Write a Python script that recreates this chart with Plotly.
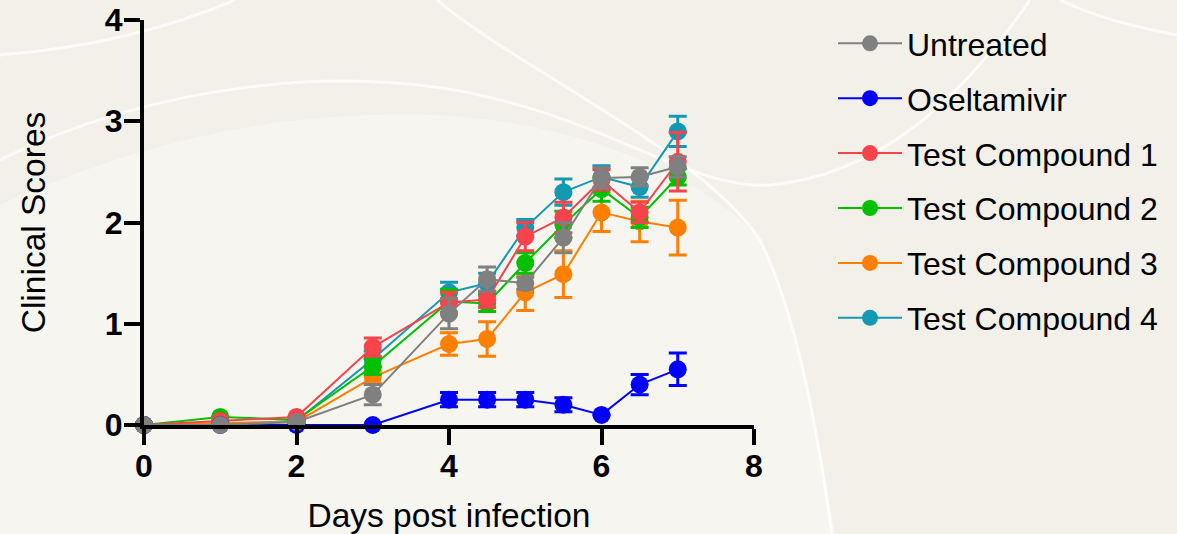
import plotly.graph_objects as go

# ---------------- data ----------------
days = [0, 1, 2, 3, 4, 4.5, 5, 5.5, 6, 6.5, 7]

series_names = ["Untreated", "Oseltamivir", "Test Compound 1",
                "Test Compound 2", "Test Compound 3", "Test Compound 4"]

untreated = [0, 0, 0.03, 0.30, 1.10, 1.44, 1.40, 1.85, 2.44, 2.45, 2.55]
untreated_err = [0, 0, 0, 0.10, 0.15, 0.12, 0.06, 0.15, 0.10, 0.09, 0.10]

oseltamivir = [0, 0, 0, 0, 0.25, 0.25, 0.25, 0.20, 0.10, 0.40, 0.55]
oseltamivir_err = [0, 0, 0, 0, 0.07, 0.07, 0.07, 0.07, 0, 0.10, 0.16]

compound1 = [0, 0.04, 0.08, 0.77, 1.21, 1.24, 1.86, 2.05, 2.42, 2.10, 2.60]
compound1_err = [0, 0, 0, 0.09, 0.10, 0.08, 0.14, 0.15, 0.10, 0.10, 0.29]

compound2 = [0, 0.08, 0.05, 0.58, 1.22, 1.20, 1.60, 1.98, 2.33, 2.05, 2.45]
compound2_err = [0, 0, 0, 0.08, 0.12, 0.08, 0.10, 0.13, 0.12, 0.10, 0.08]

compound3 = [0, 0.02, 0.03, 0.47, 0.80, 0.85, 1.31, 1.49, 2.10, 2.01, 1.95]
compound3_err = [0, 0, 0, 0.06, 0.11, 0.17, 0.18, 0.23, 0.19, 0.20, 0.27]

compound4 = [0, 0.01, 0.04, 0.65, 1.31, 1.40, 1.95, 2.30, 2.45, 2.35, 2.90]
compound4_err = [0, 0, 0, 0.08, 0.10, 0.10, 0.08, 0.13, 0.11, 0.10, 0.15]

values = [untreated, oseltamivir, compound1, compound2, compound3, compound4]
errors = [untreated_err, oseltamivir_err, compound1_err, compound2_err,
          compound3_err, compound4_err]
colors = ["#808080", "#0000ff", "#f8434a", "#00c000", "#ff8000", "#1399b4"]

x_ticks = [0, 2, 4, 6, 8]
y_ticks = [0, 1, 2, 3, 4]

# ---------------- figure ----------------
W, H = 1177, 534
ML, MR, MT, MB = 144, 423, 20, 109
PW, PH = W - ML - MR, H - MT - MB

fig = go.Figure()

# draw last series first so that "Untreated" sits on top
for i in reversed(range(len(series_names))):
    fig.add_trace(go.Scatter(
        x=days, y=values[i], name=series_names[i],
        mode="lines+markers",
        line=dict(color=colors[i], width=2),
        marker=dict(color=colors[i], size=18),
        error_y=dict(type="data", array=errors[i], visible=True,
                     color=colors[i], thickness=3, width=9),
        legendrank=i + 1, legendgroup=series_names[i],
        cliponaxis=False,
    ))


def px2paper(pts):
    out = []
    for cmd, coords in pts:
        vals = [f"{(x - ML) / PW:.4f},{(H - MB - y) / PH:.4f}" for (x, y) in coords]
        out.append(cmd + " ".join(vals))
    return " ".join(out)


# decorative background
bg_shapes = []
light_region = px2paper([
    ("M", [(0, 205)]), ("C", [(120, 150), (260, 110), (430, 115)]),
    ("C", [(560, 118), (700, 170), (760, 240)]),
    ("C", [(800, 320), (820, 450), (835, 534)]),
    ("L", [(0, 534)]), ("Z", []),
])
bg_shapes.append(dict(type="path", path=light_region, xref="paper", yref="paper",
                      fillcolor="#f6f5f0", line=dict(width=0), layer="below"))
curves = [
    [("M", [(0, 55)]), ("Q", [(130, 45), (235, 0)])],
    [("M", [(0, 160)]), ("C", [(150, 85), (350, 60), (500, 100)]),
     ("C", [(620, 130), (700, 190), (770, 185)]),
     ("C", [(880, 175), (960, 100), (1030, 0)])],
    [("M", [(437, 0)]), ("C", [(520, 70), (700, 150), (760, 240)]),
     ("C", [(800, 320), (820, 450), (832, 534)])],
    [("M", [(1060, 0)]), ("C", [(1100, 20), (1150, 30), (1177, 35)])],
]
for c in curves:
    bg_shapes.append(dict(type="path", path=px2paper(c), xref="paper", yref="paper",
                          line=dict(color="rgba(255,255,255,0.75)", width=3),
                          layer="below"))

FAM = "Liberation Sans, Arial, sans-serif"
axis_font = dict(family=FAM, size=33.5, color="#000")
tick_font = dict(family=FAM, size=32, color="#000", weight="bold")

fig.update_layout(
    width=W, height=H,
    margin=dict(l=ML, r=MR, t=MT, b=MB, pad=0, autoexpand=False),
    paper_bgcolor="#f2f0e8",
    plot_bgcolor="rgba(0,0,0,0)",
    shapes=bg_shapes,
    showlegend=True,
    legend=dict(
        x=(833 - ML) / PW, xanchor="left", y=(H - MB - 16) / PH, yanchor="top",
        font=dict(family=FAM, size=32, color="#000"),
        bgcolor="rgba(0,0,0,0)", tracegroupgap=10.3, itemwidth=64,
        maxheight=500,
    ),
    xaxis=dict(
        range=[0, 8], tickvals=x_ticks, ticktext=[str(v) for v in x_ticks],
        showgrid=False, zeroline=False, showline=True, linecolor="#000",
        linewidth=4, ticks="outside", ticklen=16, tickwidth=4, tickcolor="#000",
        tickfont=tick_font, automargin=False, ticklabelstandoff=-6,
        title=dict(text="Days post infection", font=axis_font, standoff=21),
    ),
    yaxis=dict(
        range=[0, 4], tickvals=y_ticks, ticktext=[str(v) for v in y_ticks],
        showgrid=False, zeroline=False, showline=True, linecolor="#000",
        linewidth=4, ticks="outside", ticklen=16, tickwidth=4, tickcolor="#000",
        tickfont=tick_font, automargin=False, ticklabelstandoff=-5,
        title=dict(text="Clinical Scores", font=axis_font, standoff=50),
    ),
)

fig.write_html(
    "out.html",
    config={"displayModeBar": False},
    post_script="document.body.style.margin='0';"
                "document.body.style.overflow='hidden';"
                "document.body.style.background='#f2f0e8';",
)
